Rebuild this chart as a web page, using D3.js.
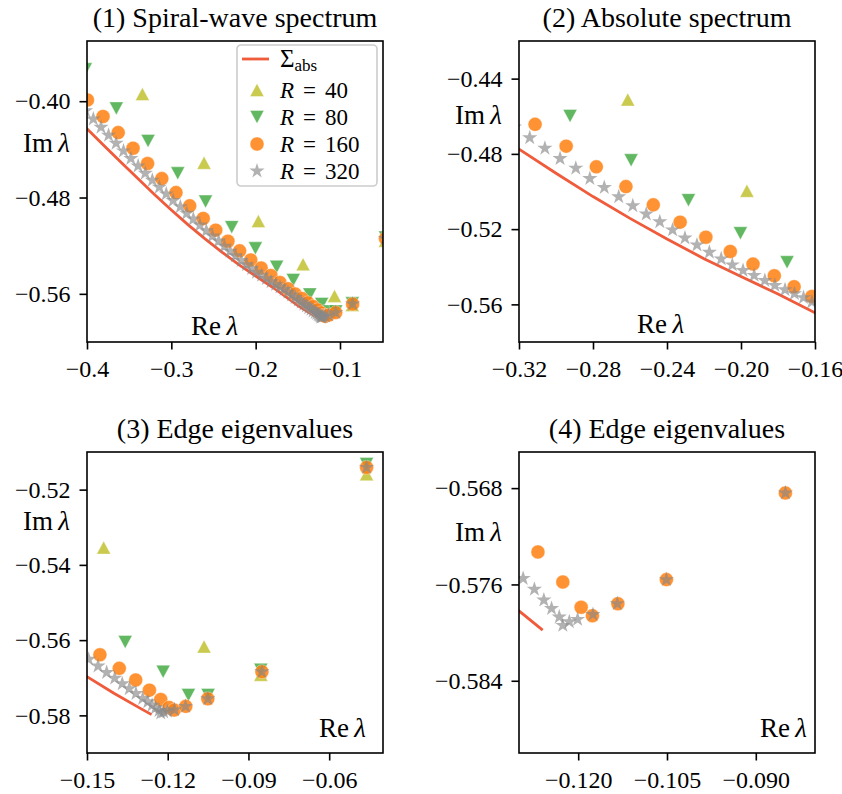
<!DOCTYPE html>
<html>
<head>
<meta charset="utf-8">
<script src="https://cdn.jsdelivr.net/npm/d3@7"></script>
<style>
  body { margin: 0; background: #fff; }
  svg { font-family: "Liberation Serif", "DejaVu Serif", serif; }
</style>
</head>
<body>
<svg id="chart" width="842" height="794"></svg>
<script>
// absolute spectrum curve (Re, Im)
const absRe = [-0.41, -0.40, -0.38, -0.36, -0.34, -0.32, -0.30, -0.28, -0.26, -0.24, -0.22, -0.20, -0.18, -0.16, -0.15, -0.14, -0.13, -0.126];
const absIm = [-0.4160, -0.4229, -0.4368, -0.4505, -0.4640, -0.4775, -0.4903, -0.5027, -0.5143, -0.5253, -0.5357, -0.5452, -0.5545, -0.5645, -0.5697, -0.5741, -0.5782, -0.5798];

// eigenvalues for each disk radius R
const r40Re = [-0.3343, -0.2612, -0.1968, -0.1438, -0.1065, -0.0854, -0.0461];
const r40Im = [-0.3940, -0.4511, -0.4996, -0.5354, -0.5617, -0.5692, -0.5159];

const r80Re = [-0.4020, -0.3652, -0.3276, -0.2924, -0.2594, -0.2284, -0.2003, -0.1751, -0.1554, -0.1358, -0.1217, -0.1123, -0.1050, -0.0854, -0.0461];
const r80Im = [-0.3735, -0.4060, -0.4330, -0.4599, -0.4834, -0.5046, -0.5222, -0.5376, -0.5485, -0.5605, -0.5684, -0.5746, -0.5746, -0.5679, -0.5132];

const r160Re = [-0.3995, -0.3810, -0.3630, -0.3454, -0.3282, -0.3113, -0.2945, -0.2782, -0.2622, -0.2474, -0.2329, -0.2190, -0.2058, -0.1935, -0.1820, -0.1713, -0.1617, -0.1532, -0.1452, -0.1380, -0.1319, -0.1268, -0.1226, -0.1195, -0.1176, -0.1133, -0.1051, -0.0850, -0.0461];
const r160Im = [-0.3990, -0.4127, -0.4261, -0.4391, -0.4518, -0.4643, -0.4759, -0.4869, -0.4974, -0.5071, -0.5163, -0.5243, -0.5319, -0.5386, -0.5448, -0.5506, -0.5558, -0.5601, -0.5639, -0.5675, -0.5706, -0.5733, -0.5758, -0.5779, -0.5786, -0.5776, -0.5756, -0.5684, -0.5141];

const r320Re = [-0.4017, -0.3925, -0.3834, -0.3744, -0.3655, -0.3567, -0.3480, -0.3394, -0.3309, -0.3225, -0.3142, -0.3060, -0.2978, -0.2893, -0.2817, -0.2739, -0.2661, -0.2585, -0.2512, -0.2439, -0.2370, -0.2303, -0.2238, -0.2171, -0.2107, -0.2047, -0.1989, -0.1929, -0.1871, -0.1817, -0.1762, -0.1711, -0.1662, -0.1617, -0.1573, -0.1532, -0.1494, -0.1459, -0.1427, -0.1397, -0.1369, -0.1343, -0.1318, -0.1293, -0.1274, -0.1258, -0.1245, -0.1232, -0.1226, -0.1215, -0.1201, -0.1175, -0.1134, -0.1051, -0.0850, -0.0461];
const r320Im = [-0.4079, -0.4148, -0.4216, -0.4283, -0.4349, -0.4413, -0.4476, -0.4538, -0.4598, -0.4657, -0.4714, -0.4770, -0.4825, -0.4876, -0.4931, -0.4979, -0.5028, -0.5076, -0.5120, -0.5161, -0.5204, -0.5247, -0.5284, -0.5323, -0.5358, -0.5390, -0.5420, -0.5446, -0.5473, -0.5499, -0.5522, -0.5543, -0.5564, -0.5587, -0.5610, -0.5631, -0.5651, -0.5669, -0.5686, -0.5701, -0.5716, -0.5729, -0.5742, -0.5755, -0.5764, -0.5773, -0.5780, -0.5787, -0.5794, -0.5791, -0.5789, -0.5785, -0.5776, -0.5756, -0.5684, -0.5141];

// tick values per panel
const xTicks1 = [-0.4, -0.3, -0.2, -0.1],      yTicks1 = [-0.40, -0.48, -0.56];
const xTicks2 = [-0.32, -0.28, -0.24, -0.20, -0.16], yTicks2 = [-0.44, -0.48, -0.52, -0.56];
const xTicks3 = [-0.15, -0.12, -0.09, -0.06],  yTicks3 = [-0.52, -0.54, -0.56, -0.58];
const xTicks4 = [-0.120, -0.105, -0.090],      yTicks4 = [-0.568, -0.576, -0.584];

const titles = ["(1) Spiral-wave spectrum", "(2) Absolute spectrum", "(3) Edge eigenvalues", "(4) Edge eigenvalues"];
const radii = [40, 80, 160, 320];

const W = 296, H = 301;
const svg = d3.select("#chart");

// show: indices into series drawn in that panel
const panels = [
  {left: 87,  top: 41,  xDom: [-0.4, -0.049], yDom: [-0.60, -0.35], xt: xTicks1, yt: yTicks1, xf: ".1f", yf: ".2f", imY: 111, re: {x: 104, y: 294, anchor: "start"}, show: [0, 1, 2, 3], legend: true},
  {left: 519, top: 41,  xDom: [-0.32, -0.16], yDom: [-0.58, -0.42], xt: xTicks2, yt: yTicks2, xf: ".2f", yf: ".2f", imY: 83,  re: {x: 118, y: 292, anchor: "start"}, show: [0, 1, 2, 3]},
  {left: 87,  top: 452, xDom: [-0.15, -0.04], yDom: [-0.59, -0.51], xt: xTicks3, yt: yTicks3, xf: ".2f", yf: ".2f", imY: 78,  re: {x: 279, y: 285, anchor: "end"}, show: [0, 1, 2, 3]},
  {left: 519, top: 452, xDom: [-0.13, -0.08], yDom: [-0.590, -0.565], xt: xTicks4, yt: yTicks4, xf: ".3f", yf: ".3f", imY: 89, re: {x: 288, y: 285, anchor: "end"}, show: [2, 3]}
];

function starPath(R) {
  const r = R * 0.381966;
  let pts = [];
  for (let i = 0; i < 10; i++) {
    const a = -Math.PI / 2 + i * Math.PI / 5;
    const rr = i % 2 ? r : R;
    pts.push([rr * Math.cos(a), rr * Math.sin(a)]);
  }
  return "M" + pts.map(p => p[0].toFixed(2) + "," + p[1].toFixed(2)).join("L") + "Z";
}
const triUp = "M0,-6.5L7,6.5L-7,6.5Z";
const triDown = "M0,6.5L7,-6.5L-7,-6.5Z";

const series = [
  {re: r40Re,  im: r40Im,  shape: triUp,   fill: "#bcbd22", op: 0.8,  edge: true},
  {re: r80Re,  im: r80Im,  shape: triDown, fill: "#2ca02c", op: 0.75, edge: true},
  {re: r160Re, im: r160Im, shape: "circle", fill: "#ff7f0e", op: 0.85, edge: true},
  {re: r320Re, im: r320Im, shape: starPath(8), fill: "#888888", op: 0.65, edge: false}
];
const lineColor = "#ef5b3b";

function drawMarker(sel, s) {
  const m = s.shape === "circle" ? sel.append("circle").attr("r", 7) : sel.append("path").attr("d", s.shape);
  m.attr("fill", s.fill).attr("fill-opacity", s.op);
  if (s.edge) m.attr("stroke", "#fff").attr("stroke-width", 0.7).attr("stroke-opacity", 0.55);
}

panels.forEach((p, k) => {
  const g = svg.append("g").attr("transform", `translate(${p.left},${p.top})`);
  const x = d3.scaleLinear().domain(p.xDom).range([0, W]);
  const y = d3.scaleLinear().domain(p.yDom).range([H, 0]);

  g.append("clipPath").attr("id", "clip" + k).append("rect").attr("width", W).attr("height", H);
  const plot = g.append("g").attr("clip-path", `url(#clip${k})`);

  plot.append("path")
    .datum(d3.range(absRe.length))
    .attr("d", d3.line().x(i => x(absRe[i])).y(i => y(absIm[i])))
    .attr("fill", "none").attr("stroke", lineColor).attr("stroke-width", 2.8);

  p.show.forEach(si => {
    const s = series[si];
    s.re.forEach((v, i) => {
      const m = plot.append("g").attr("transform", `translate(${x(v)},${y(s.im[i])})`);
      drawMarker(m, s);
    });
  });

  g.append("rect").attr("width", W).attr("height", H)
    .attr("fill", "none").attr("stroke", "#000").attr("stroke-width", 1.6);

  const xa = g.append("g").attr("transform", `translate(0,${H})`)
    .call(d3.axisBottom(x).tickValues(p.xt).tickFormat(d3.format(p.xf)).tickSize(7.5).tickPadding(10));
  const ya = g.append("g")
    .call(d3.axisLeft(y).tickValues(p.yt).tickFormat(d3.format(p.yf)).tickSize(7.5).tickPadding(9));
  [xa, ya].forEach(a => {
    a.select(".domain").remove();
    a.attr("font-size", 24).attr("font-family", "Liberation Serif, serif");
    a.selectAll("line").attr("stroke-width", 1.6);
    a.selectAll("text").attr("fill", "#000");
  });

  g.append("text").attr("x", W / 2).attr("y", -14).attr("text-anchor", "middle")
    .attr("font-size", 28).text(titles[k]);

  const im = g.append("text").attr("x", -17).attr("y", p.imY).attr("text-anchor", "end").attr("font-size", 27);
  im.append("tspan").text("Im\u2009");
  im.append("tspan").attr("font-style", "italic").text("λ");

  const re = g.append("text").attr("x", p.re.x).attr("y", p.re.y).attr("text-anchor", p.re.anchor).attr("font-size", 27);
  re.append("tspan").text("Re\u2009");
  re.append("tspan").attr("font-style", "italic").text("λ");

  if (p.legend) {
    const lg = g.append("g").attr("transform", "translate(150,4)");
    lg.append("rect").attr("width", 140).attr("height", 141).attr("rx", 4)
      .attr("fill", "#fff").attr("fill-opacity", 0.8).attr("stroke", "#cccccc").attr("stroke-width", 1.6);
    const rows = [14, 45, 72, 99, 126];
    lg.append("line").attr("x1", 5).attr("x2", 32).attr("y1", rows[0]).attr("y2", rows[0])
      .attr("stroke", lineColor).attr("stroke-width", 2.8);
    const t0 = lg.append("text").attr("x", 43).attr("y", rows[0] + 8).attr("font-size", 23);
    t0.append("tspan").attr("font-size", 25).text("Σ");
    t0.append("tspan").attr("font-size", 17).attr("dy", 4).text("abs");
    series.forEach((s, i) => {
      const m = lg.append("g").attr("transform", `translate(20,${rows[i + 1]})`);
      drawMarker(m, s);
      const t = lg.append("text").attr("x", 43).attr("y", rows[i + 1] + 8).attr("font-size", 23);
      t.append("tspan").attr("font-style", "italic").text("R");
      t.append("tspan").attr("dx", 9).text("=");
      t.append("tspan").attr("dx", 9).text(radii[i]);
    });
  }
});
</script>
</body>
</html>
